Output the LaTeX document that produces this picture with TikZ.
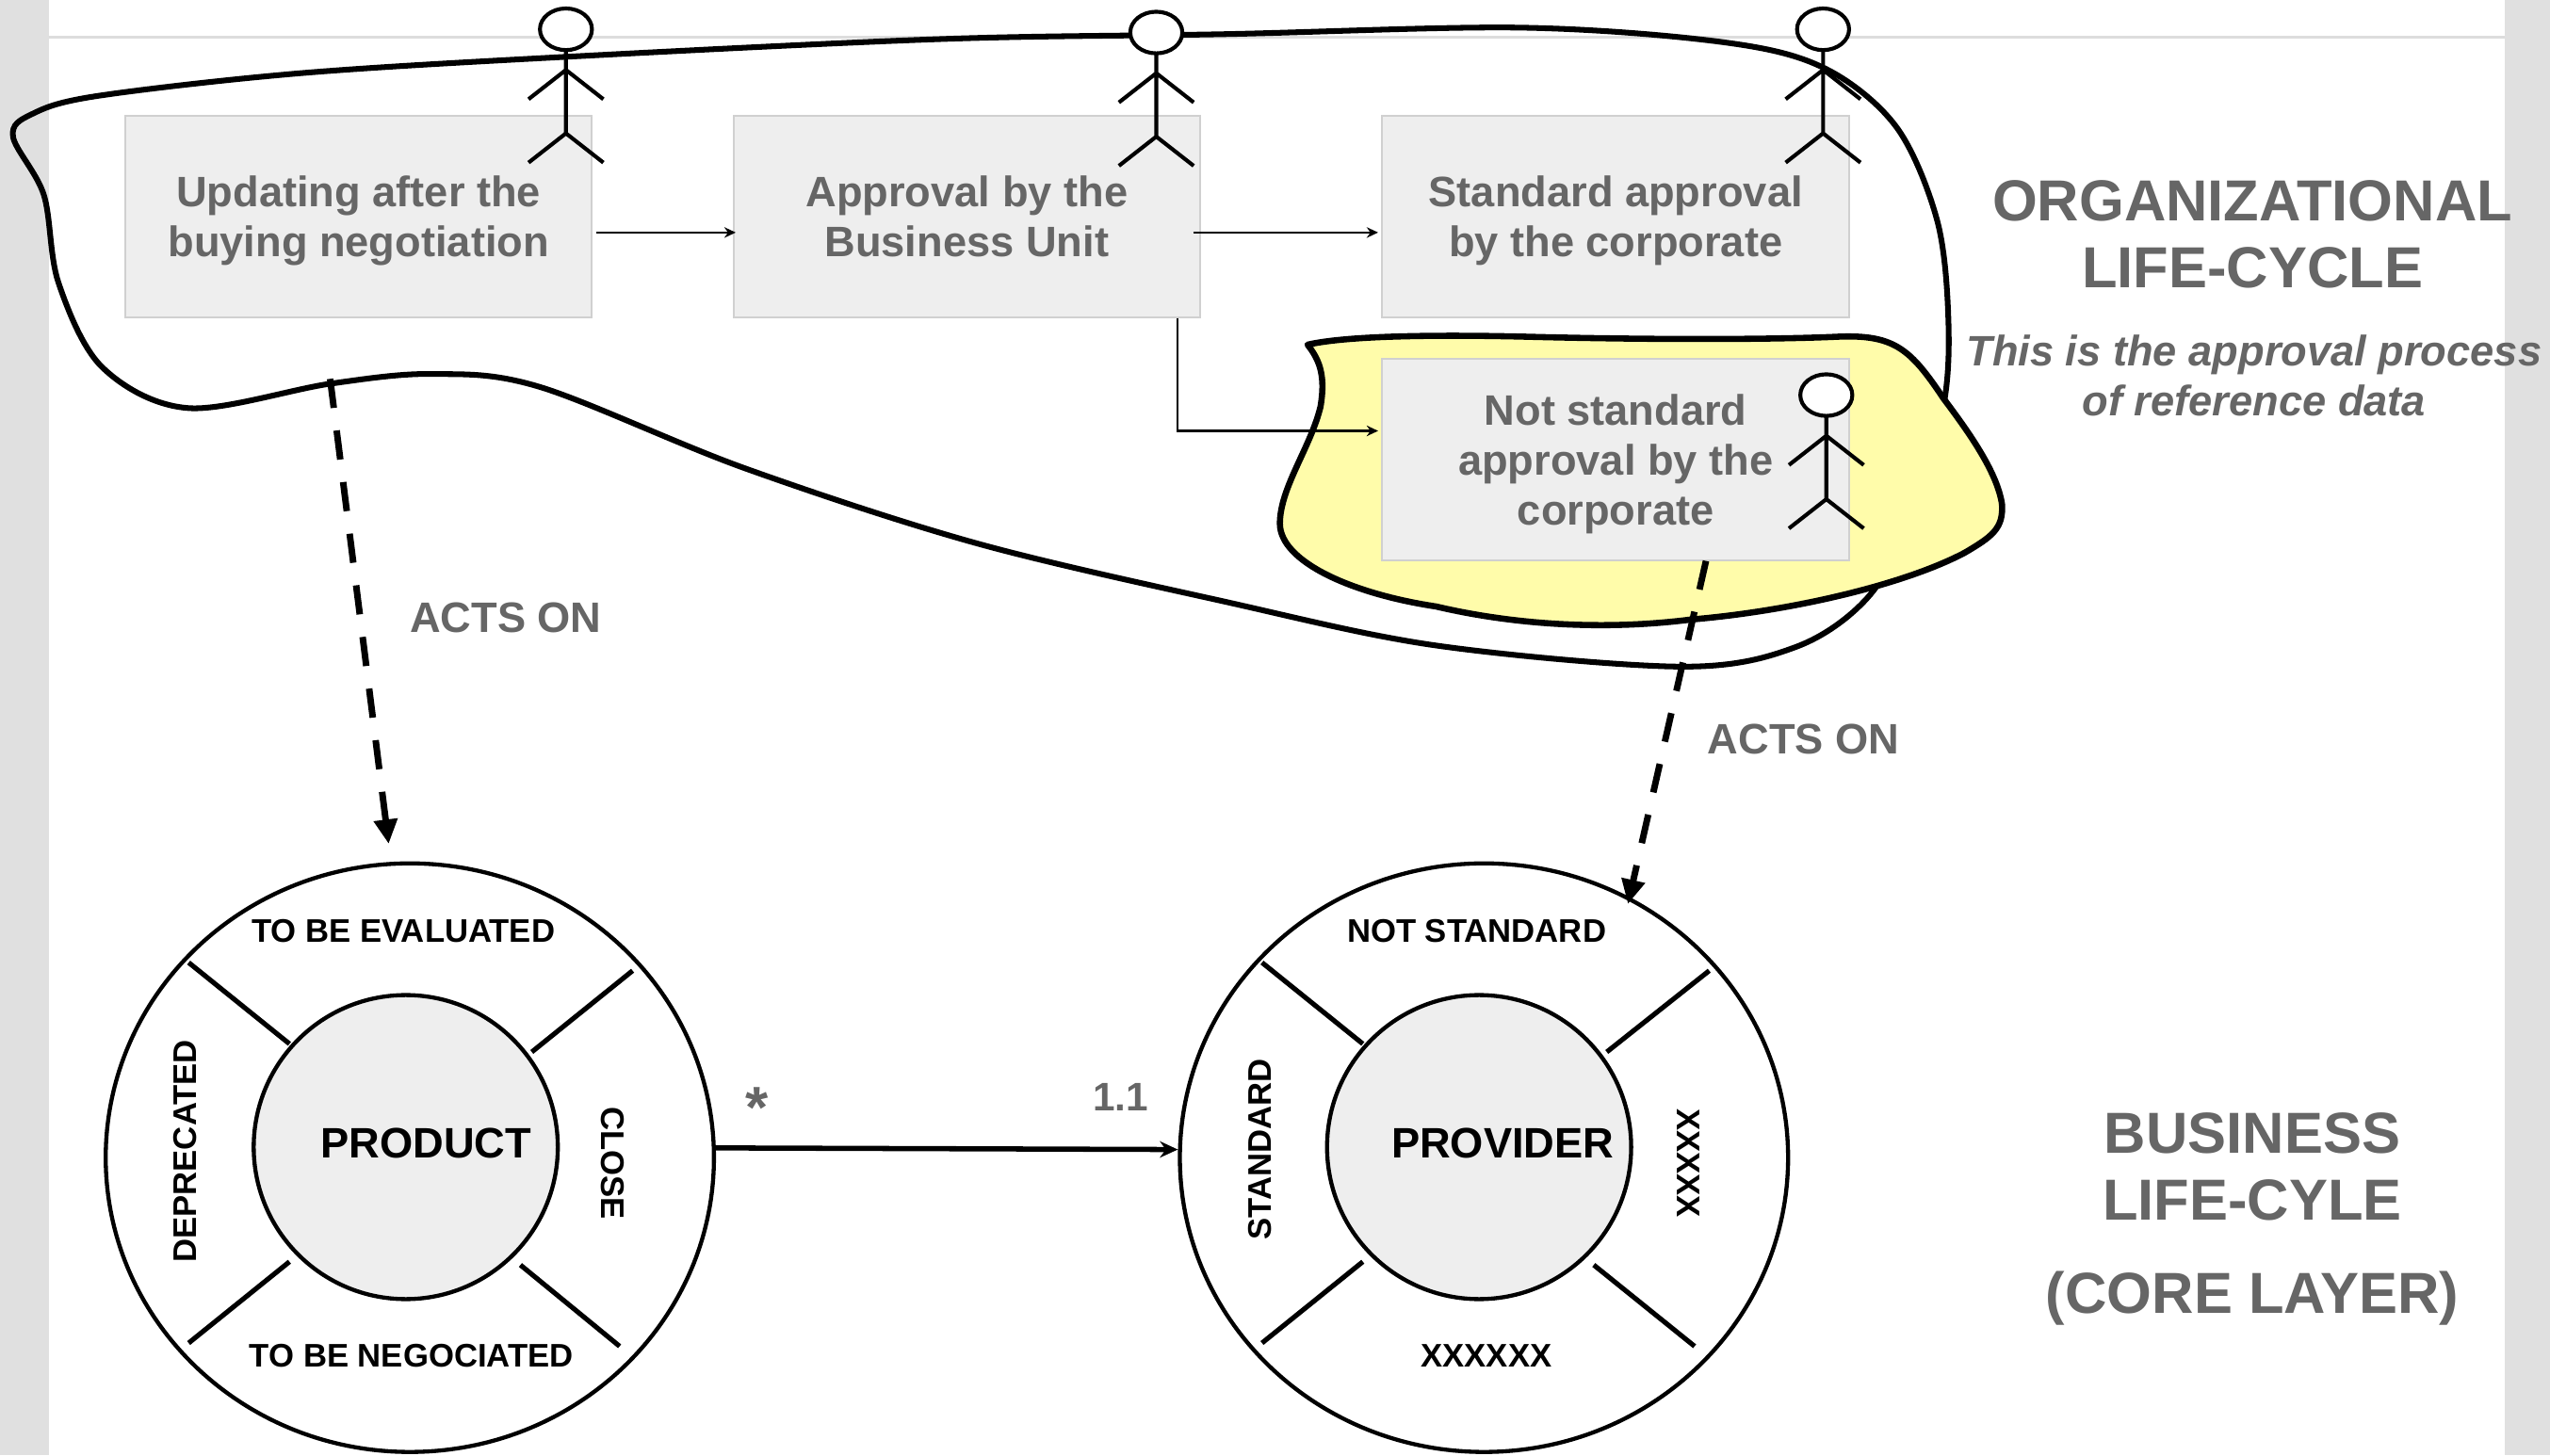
\documentclass[tikz,border=0pt]{standalone}
\usepackage{fontspec}
\setmainfont{Liberation Sans}
\usetikzlibrary{arrows.meta,shapes.geometric}
\definecolor{txtgrey}{HTML}{666666}
\definecolor{barGrey}{HTML}{E0E0E0}
\definecolor{ruleGrey}{HTML}{DDDDDD}
\definecolor{boxFill}{HTML}{EEEEEE}
\definecolor{boxEdge}{HTML}{D0D0D0}
\definecolor{noteYellow}{HTML}{FFFCAA}
\newcommand{\fs}[2]{\fontsize{#1}{#2}\selectfont}
\newcommand{\bl}[1]{\raisebox{0pt}[19pt][0pt]{#1}}
\newcommand{\actorfig}[3]{%
  \begin{scope}[shift={(#1,#2)}]
    \draw[actorline] (0,#3) -- (0,82) (0,43) -- (-23,61) (0,43) -- (23,61) (0,82) -- (-23,100) (0,82) -- (23,100);
    \draw[actorline,fill=white] (0,18) ellipse (16 and 12.8);
  \end{scope}}
\tikzset{
  stepbox/.style={draw=boxEdge,line width=1.2pt,fill=boxFill,minimum width=287pt,minimum height=124pt,inner sep=0pt,align=center,text=txtgrey,font=\bfseries\fs{26.2}{30.7}},
  actorline/.style={line width=2.4pt},
  thinarrow/.style={line width=1.2pt,-{Stealth[length=7pt,width=6.5pt]}},
  blob/.style={line width=3.5pt},
  actson/.style={line width=4pt,dash pattern=on 18pt off 14pt,-{Triangle[length=15pt,width=14pt]}},
  outerc/.style={draw,ellipse,line width=2.5pt,minimum width=374pt,minimum height=362pt,inner sep=0pt,fill=white},
  innerc/.style={draw,ellipse,line width=2.5pt,minimum width=187pt,minimum height=187pt,inner sep=0pt,fill=boxFill},
  spoke/.style={line width=3pt},
  stateL/.style={font=\bfseries\fs{20.1}{24},inner sep=0pt},
  coreL/.style={font=\bfseries\fs{26.2}{30},inner sep=0pt},
  greyL/.style={text=txtgrey,font=\bfseries\fs{26.2}{30},inner sep=0pt},
  headL/.style={text=txtgrey,font=\bfseries\fs{35.6}{41},inner sep=0pt,align=center},
}
\begin{document}
\begin{tikzpicture}[x=1pt,y=-1pt]
\useasboundingbox (0,0) rectangle (1568,895);
\fill[white] (0,0) rectangle (1568,895);
\fill[barGrey] (0,0) rectangle (30,895);
\fill[barGrey] (1540,0) rectangle (1568,895);
\draw[ruleGrey,line width=2pt] (30,23) -- (1540,23);
% organisational blob
\draw[blob] plot[smooth cycle,tension=0.55] coordinates {
 (8,84) (20,70) (60,59) (185,45) (347,35) (579,24) (753,21) (935,17) (1060,26) (1122,42) (1166,78) (1191,135) (1198,195) (1195,250) (1175,320)
 (1148,368) (1104,398) (1034,410) (883,397) (753,370) (600,334) (458,288) (332,238) (266,230) (203,236) (116,251) (63,226) (36,174) (27,120)};
\node[stepbox] (b1) at (220.5,133) {\bl{Updating after the}\\\bl{buying negotiation}};
\node[stepbox] (b2) at (594.5,133) {\bl{Approval by the}\\\bl{Business Unit}};
\node[stepbox] (b3) at (993.5,133) {\bl{Standard approval}\\\bl{by the corporate}};
% yellow blob
\draw[fill=noteYellow,line width=3.8pt,line join=round] (804,212)
 .. controls (812,222) and (815,232) .. (812,250)
 .. controls (806,275) and (787,300) .. (787,322)
 .. controls (787,345) and (830,365) .. (883,373)
 .. controls (930,384) and (985,388) .. (1040,381)
 .. controls (1100,376) and (1170,360) .. (1208,340)
 .. controls (1225,330) and (1232,325) .. (1231,310)
 .. controls (1228,290) and (1210,265) .. (1195,245)
 .. controls (1175,215) and (1165,206) .. (1132,207)
 .. controls (1090,209) and (1010,209) .. (935,207)
 .. controls (890,206) and (830,206) .. (804,212) -- cycle;
\node[stepbox] (b4) at (993.5,282.5) {\bl{Not standard}\\\bl{approval by the}\\\bl{corporate}};
% actors
\actorfig{348}{0}{31}
\actorfig{711}{2}{31}
\actorfig{1121}{0}{31}
\actorfig{1123}{225}{31}
% flow arrows
\coordinate (j1) at (724,265);
\draw[thinarrow] ([xshift=2pt,yshift=-10pt]b1.east) -- ([xshift=2pt,yshift=-10pt]b2.west);
\draw[thinarrow] ([xshift=-5pt,yshift=-10pt]b2.east) -- ([xshift=-2pt,yshift=-10pt]b3.west);
\draw[thinarrow] (j1 |- b2.south) -- (j1) -- ([xshift=-2pt]j1 -| b4.west);
% lifecycle circles
\node[outerc] (c1o) at (252,712) {};
\node[innerc] (c1i) at (249.5,705.5) {};
\node[outerc] (c2o) at (912.5,712) {};
\node[innerc] (c2i) at (909.5,705.5) {};
\draw[spoke] (116,592)--(178,642) (389,597)--(327,647) (178,776)--(116,826) (320,778)--(381,828);
\draw[spoke] (776,592)--(838,642) (1051,597)--(988,647) (838,776)--(776,826) (980,778)--(1042,828);
\node[coreL] (pn) at (262,703) {PRODUCT};
\node[coreL] (vn) at (924,703) {PROVIDER};
\node[stateL] (s1) at (248,572.5) {TO BE EVALUATED};
\node[stateL] (s2) at (253,834) {TO BE NEGOCIATED};
\node[stateL,rotate=90] (s3) at (114,708) {DEPRECATED};
\node[stateL,rotate=-90] (s4) at (377,715.5) {CLOSE};
\node[stateL] (s5) at (908,572.5) {NOT STANDARD};
\node[stateL] (s6) at (914,834) {XXXXXX};
\node[stateL,rotate=90] (s7) at (775,707) {STANDARD};
\node[stateL,rotate=-90] (s8) at (1038,715.5) {XXXXX};
% acts-on arrows
\coordinate (a1) at (203,233);
\coordinate (a2) at (239,519);
\draw[actson] (a1) -- (a2);
\coordinate (a3) at (1049,345);
\coordinate (a4) at (1001,556);
\draw[actson] (a3) -- (a4);
\node[greyL] (l1) at (311,380) {ACTS ON};
\node[greyL] (l2) at (1109,454.5) {ACTS ON};
% association
\draw[line width=3.2pt,-{Stealth[length=11pt,width=10pt]}] ([yshift=6pt]c1o.east) -- ([yshift=5pt]c2o.west);
\node[text=txtgrey,font=\bfseries\fs{36}{40},inner sep=0pt] (m1) at (465.5,681) {*};
\node[text=txtgrey,font=\bfseries\fs{24.5}{28},inner sep=0pt] (m2) at (689,675) {1.1};
% headings
\node[headL] (h1) at (1385,144) {ORGANIZATIONAL\\LIFE-CYCLE};
\node[text=txtgrey,font=\bfseries\itshape\fs{26.2}{30.5},inner sep=0pt,align=center] (h2) at (1386,231) {This is the approval process\\of reference data};
\node[headL] (h3) at (1385,717.5) {BUSINESS\\LIFE-CYLE};
\node[headL] (h4) at (1385,798.5) {(CORE LAYER)};
\end{tikzpicture}
\end{document}
